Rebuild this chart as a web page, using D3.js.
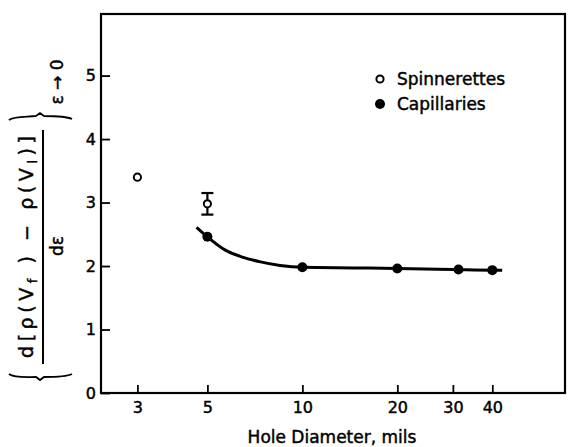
<!DOCTYPE html>
<html>
<head>
<meta charset="utf-8">
<script src="https://cdn.jsdelivr.net/npm/d3@7"></script>
<style>
  html, body { margin: 0; padding: 0; background: #fff; }
  svg text { font-family: "DejaVu Sans", "Liberation Sans", sans-serif; fill: #000; stroke: #000; stroke-width: 0.45px; }
</style>
</head>
<body>
<svg id="chart" width="570" height="447"></svg>
<script>
// Hole diameters (mils) and measured slopes
const spinDiameter = [3, 5];
const spinValue = [3.4, 2.98];
const spinErrLow = [null, 2.81];
const spinErrHigh = [null, 3.15];

const capDiameter = [5, 10, 20, 31.25, 40];
const capValue = [2.46, 1.98, 1.96, 1.945, 1.935];

// smooth trend drawn through the capillary data
const trendDiameter = [4.62, 5.0, 5.7, 6.45, 7.3, 8.5, 10, 15, 20, 30, 40, 43];
const trendValue = [2.61, 2.46, 2.25, 2.14, 2.07, 2.01, 1.98, 1.97, 1.96, 1.945, 1.935, 1.935];

const xTicks = [3, 5, 10, 20, 30, 40];
const yTicks = [0, 1, 2, 3, 4, 5];

const svg = d3.select("#chart");
const plotLeft = 101, plotRight = 565, plotTop = 14, plotBottom = 393;

const x = d3.scaleLog().domain([2.3, 68]).range([plotLeft, plotRight]);
const y = d3.scaleLinear().domain([0, 5.97]).range([plotBottom, plotTop]);

// frame
svg.append("rect")
  .attr("x", plotLeft).attr("y", plotTop)
  .attr("width", plotRight - plotLeft).attr("height", plotBottom - plotTop)
  .attr("fill", "none").attr("stroke", "#000").attr("stroke-width", 2.2);

// axes with inward ticks
const gx = svg.append("g").attr("transform", `translate(0,${plotBottom})`)
  .call(d3.axisBottom(x).tickValues(xTicks).tickFormat(d3.format("d")).tickSize(-8).tickPadding(9));
const gy = svg.append("g").attr("transform", `translate(${plotLeft},0)`)
  .call(d3.axisLeft(y).tickValues(yTicks).tickFormat(d3.format("d")).tickSize(-9).tickPadding(5));
[gx, gy].forEach(g => {
  g.select(".domain").remove();
  g.selectAll(".tick line").attr("stroke", "#000").attr("stroke-width", 1.8);
  g.selectAll(".tick text").attr("font-size", 16).attr("fill", "#000")
    .style("font-family", '"DejaVu Sans", sans-serif');
});

// x-axis title
svg.append("text")
  .attr("x", 332).attr("y", 443)
  .attr("text-anchor", "middle").attr("font-size", 17)
  .text("Hole Diameter, mils");

// y-axis title: { d[ρ(Vf) − ρ(Vl)] / dε } at ε→0
const yl = svg.append("g");
const num = yl.append("text")
  .attr("transform", "translate(33,247) rotate(-90)")
  .attr("text-anchor", "middle").attr("font-size", 19)
  .attr("textLength", 222).attr("lengthAdjust", "spacing");
num.append("tspan").text("d[ρ(V");
num.append("tspan").attr("font-size", 13).attr("dy", 4).text("f");
num.append("tspan").attr("dy", -4).text(" ) − ρ(V");
num.append("tspan").attr("font-size", 13).attr("dy", 4).text("l");
num.append("tspan").attr("dy", -4).text(")]");

yl.append("line")
  .attr("x1", 43).attr("x2", 43).attr("y1", 130).attr("y2", 364)
  .attr("stroke", "#000").attr("stroke-width", 2);

yl.append("text")
  .attr("transform", "translate(63,246) rotate(-90)")
  .attr("text-anchor", "middle").attr("font-size", 17)
  .text("dε");

yl.append("text")
  .attr("transform", "translate(63,82) rotate(-90)")
  .attr("text-anchor", "middle").attr("font-size", 17)
  .text("ε → 0");

// braces around the derivative
yl.append("path")
  .attr("d", "M9,120 C14,116 26,117 36,116 L40,113 L44,116 C54,116 66,116 72,119")
  .attr("fill", "none").attr("stroke", "#000").attr("stroke-width", 1.8);
yl.append("path")
  .attr("d", "M9,374 C14,378 26,377 36,377 L40,380 L44,377 C54,377 66,377 72,374")
  .attr("fill", "none").attr("stroke", "#000").attr("stroke-width", 1.8);

// trend curve
const line = d3.line()
  .x((d, i) => x(trendDiameter[i]))
  .y((d, i) => y(trendValue[i]))
  .curve(d3.curveMonotoneX);
svg.append("path")
  .datum(trendDiameter)
  .attr("d", line)
  .attr("fill", "none").attr("stroke", "#000").attr("stroke-width", 3);

// capillaries
svg.append("g").selectAll("circle")
  .data(capDiameter).join("circle")
  .attr("cx", d => x(d))
  .attr("cy", (d, i) => y(capValue[i]))
  .attr("r", 5).attr("fill", "#000");

// spinnerette error bars
const eb = svg.append("g").attr("stroke", "#000").attr("stroke-width", 2.2);
spinDiameter.forEach((d, i) => {
  if (spinErrLow[i] == null) return;
  const cx = x(d);
  eb.append("line").attr("x1", cx).attr("x2", cx).attr("y1", y(spinErrLow[i])).attr("y2", y(spinErrHigh[i]));
  eb.append("line").attr("x1", cx - 6).attr("x2", cx + 6).attr("y1", y(spinErrLow[i])).attr("y2", y(spinErrLow[i]));
  eb.append("line").attr("x1", cx - 6).attr("x2", cx + 6).attr("y1", y(spinErrHigh[i])).attr("y2", y(spinErrHigh[i]));
});

// spinnerettes
svg.append("g").selectAll("circle")
  .data(spinDiameter).join("circle")
  .attr("cx", d => x(d))
  .attr("cy", (d, i) => y(spinValue[i]))
  .attr("r", 3.6).attr("fill", "#fff").attr("stroke", "#000").attr("stroke-width", 2);

// legend
const lg = svg.append("g");
lg.append("circle").attr("cx", 380).attr("cy", 79).attr("r", 3.6)
  .attr("fill", "#fff").attr("stroke", "#000").attr("stroke-width", 2);
lg.append("text").attr("x", 397).attr("y", 85).attr("font-size", 17).text("Spinnerettes");
lg.append("circle").attr("cx", 380).attr("cy", 104).attr("r", 5).attr("fill", "#000");
lg.append("text").attr("x", 397).attr("y", 110).attr("font-size", 17).text("Capillaries");
</script>
</body>
</html>
